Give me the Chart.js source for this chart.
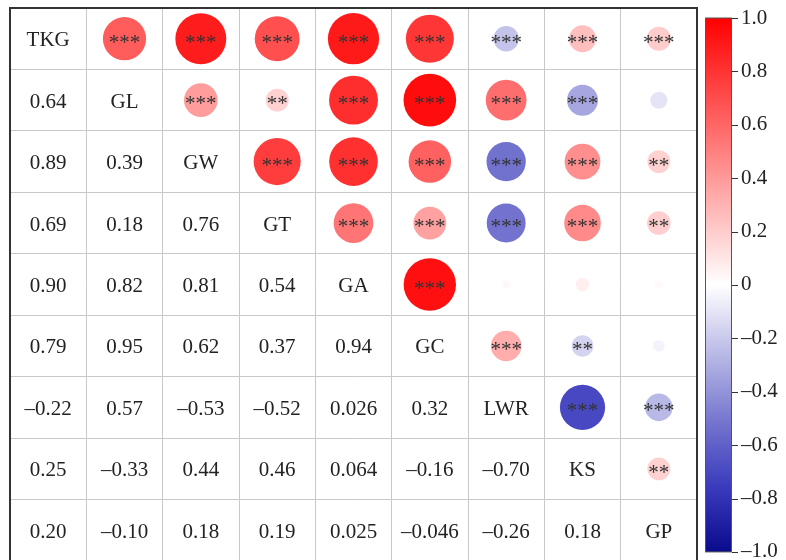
<!DOCTYPE html>
<html>
<head>
<meta charset="utf-8">
<script src="https://cdn.jsdelivr.net/npm/chart.js@4"></script>
<style>
  html, body { margin: 0; padding: 0; overflow: hidden; background: #fff; }
  canvas { display: block; }
</style>
</head>
<body>
<canvas id="corrChart" width="786" height="572"></canvas>
<script>
// === DATA ===
const labels = ['TKG', 'GL', 'GW', 'GT', 'GA', 'GC', 'LWR', 'KS', 'GP'];

// lower triangle: row i holds r(labels[i], labels[0..i-1])
const lowerRows = [
  [],
  [0.64],
  [0.89, 0.39],
  [0.69, 0.18, 0.76],
  [0.90, 0.82, 0.81, 0.54],
  [0.79, 0.95, 0.62, 0.37, 0.94],
  [-0.22, 0.57, -0.53, -0.52, 0.026, 0.32],
  [0.25, -0.33, 0.44, 0.46, 0.064, -0.16, -0.70],
  [0.20, -0.10, 0.18, 0.19, 0.025, -0.046, -0.26, 0.18]
];

// upper triangle significance: row i holds stars for labels[i+1..8]
const stars = [
  ['***', '***', '***', '***', '***', '***', '***', '***'],
  ['***', '**', '***', '***', '***', '***', ''],
  ['***', '***', '***', '***', '***', '**'],
  ['***', '***', '***', '***', '**'],
  ['***', '', '', ''],
  ['***', '**', ''],
  ['***', '***'],
  ['**']
];

const colorbarTicks = [1, 0.8, 0.6, 0.4, 0.2, 0, -0.2, -0.4, -0.6, -0.8, -1];

// colour ramp stops (value -> rgb)
const rampStops = [
  [-1, [10, 10, 140]],
  [-0.75, [60, 60, 190]],
  [-0.5, [120, 120, 208]],
  [0, [255, 255, 255]],
  [1, [255, 0, 0]]
];

// === HELPERS ===
const FONT = '"Liberation Serif", "Times New Roman", serif';

function colorFor(v) {
  v = Math.max(-1, Math.min(1, v));
  for (let k = 0; k < rampStops.length - 1; k++) {
    const [v0, c0] = rampStops[k], [v1, c1] = rampStops[k + 1];
    if (v >= v0 && v <= v1) {
      const t = (v - v0) / (v1 - v0);
      const c = c0.map((a, n) => Math.round(a + (c1[n] - a) * t));
      return `rgb(${c[0]},${c[1]},${c[2]})`;
    }
  }
  return 'rgb(255,255,255)';
}

function fmt(v) {
  return v.toPrecision(2).replace('-', '\u2013');
}

// bubbles for the upper triangle
const bubbles = [];
for (let i = 0; i < labels.length; i++) {
  for (let j = i + 1; j < labels.length; j++) {
    const v = lowerRows[j][i];
    bubbles.push({ x: j + 0.5, y: i + 0.5, r: 27 * Math.sqrt(Math.abs(v)), v, s: stars[i][j - i - 1] });
  }
}

// === PLUGIN: texts, stars, frame, colour bar ===
const corrPlugin = {
  id: 'corrPlugin',
  afterDatasetsDraw(chart) {
    const { ctx, chartArea: a, scales } = chart;
    const sx = scales.x, sy = scales.y, cb = scales.cb;
    ctx.save();

    // diagonal names + lower triangle values
    ctx.fillStyle = '#222';
    ctx.font = `21px ${FONT}`;
    ctx.textAlign = 'center';
    ctx.textBaseline = 'middle';
    labels.forEach((name, i) => {
      const cy = sy.getPixelForValue(i + 0.5) + 2;
      ctx.fillText(name, sx.getPixelForValue(i + 0.5), cy);
      lowerRows[i].forEach((v, j) => {
        ctx.fillText(fmt(v), sx.getPixelForValue(j + 0.5), cy);
      });
    });

    // stars on the bubbles
    ctx.fillStyle = '#333';
    ctx.textBaseline = 'alphabetic';
    const meta = chart.getDatasetMeta(0);
    meta.data.forEach((el, k) => {
      const s = bubbles[k].s;
      if (s) ctx.fillText(s, el.x, el.y + 10);
    });

    // frame
    ctx.strokeStyle = '#333';
    ctx.lineWidth = 2;
    ctx.strokeRect(a.left, a.top, a.right - a.left, a.bottom - a.top);

    // colour bar
    const x0 = a.right + 8, x1 = a.right + 35;
    const yTop = cb.getPixelForValue(1), yBot = cb.getPixelForValue(-1);
    const g = ctx.createLinearGradient(0, yTop, 0, yBot);
    rampStops.forEach(([v]) => g.addColorStop((1 - v) / 2, colorFor(v)));
    ctx.fillStyle = g;
    ctx.fillRect(x0, yTop, x1 - x0, yBot - yTop);
    ctx.strokeStyle = '#555';
    ctx.lineWidth = 1;
    ctx.strokeRect(x0 + 0.5, yTop, x1 - x0 - 1, yBot - yTop);
    ctx.strokeStyle = '#333';
    colorbarTicks.forEach(v => {
      const y = Math.round(cb.getPixelForValue(v)) + 0.5;
      ctx.beginPath();
      ctx.moveTo(x1, y);
      ctx.lineTo(x1 + 6, y);
      ctx.stroke();
    });

    ctx.restore();
  }
};

// === CHART ===
const gridScale = (reverse) => ({
  type: 'linear',
  min: 0,
  max: labels.length,
  reverse,
  ticks: { display: false, stepSize: 1 },
  grid: { color: '#c8c8c8', lineWidth: 1, drawTicks: false },
  border: { display: false }
});

new Chart(document.getElementById('corrChart'), {
  type: 'bubble',
  data: {
    datasets: [{
      data: bubbles,
      backgroundColor: ctx => colorFor(ctx.raw.v),
      borderWidth: 0
    }]
  },
  options: {
    responsive: false,
    animation: false,
    events: [],
    layout: { autoPadding: false, padding: { left: 10, top: 8, bottom: 11, right: 0 } },
    plugins: { legend: { display: false }, tooltip: { enabled: false } },
    scales: {
      x: { ...gridScale(false), afterFit: s => { s.height = 0; } },
      y: { ...gridScale(true), afterFit: s => { s.width = 0; } },
      cb: {
        type: 'linear',
        position: 'right',
        min: -1.034,
        max: 1.0375,
        afterBuildTicks: s => { s.ticks = colorbarTicks.map(v => ({ value: v })); },
        ticks: {
          padding: 44,
          color: '#222',
          font: { family: FONT, size: 21 },
          callback: v => (v === 0 ? '0' : (v < 0 ? '\u2013' : '') + Math.abs(v).toFixed(1))
        },
        grid: { display: false, drawTicks: false },
        border: { display: false },
        afterFit: s => { s.width = 89; s.paddingTop = 0; s.paddingBottom = 0; }
      }
    }
  },
  plugins: [corrPlugin]
});
</script>
</body>
</html>
